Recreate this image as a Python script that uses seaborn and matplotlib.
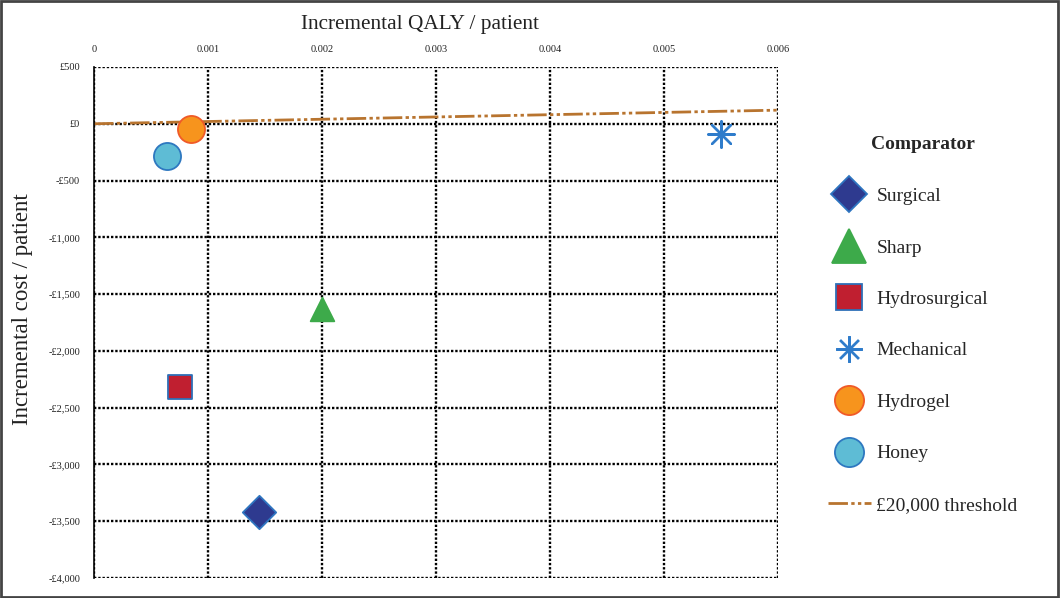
import matplotlib
matplotlib.use("Agg")
import matplotlib.pyplot as plt
import seaborn as sns
import pandas as pd
import numpy as np
from matplotlib.lines import Line2D
from matplotlib.patches import Rectangle
from matplotlib.ticker import FuncFormatter, MultipleLocator

# ---- data ----
comparators = ["Surgical", "Sharp", "Hydrosurgical", "Mechanical", "Hydrogel", "Honey"]
inc_qaly = [0.00145, 0.0020, 0.00075, 0.0055, 0.00085, 0.00064]
inc_cost = [-3415, -1630, -2315, -90, -50, -280]
threshold_wtp = 20000
threshold_x = [0.0, 0.006]
legend_title = "Comparator"
threshold_label = "£20,000 threshold"

fill_colors = {"Surgical": "#2E3A8F", "Sharp": "#3DAA4A", "Hydrosurgical": "#C01F30",
               "Mechanical": "#2F7CCB", "Hydrogel": "#F7941D", "Honey": "#5EBCD5"}
edge_colors = {"Surgical": "#2E75C0", "Sharp": "#3DAA4A", "Hydrosurgical": "#2E6FB8",
               "Mechanical": "#2F7CCB", "Hydrogel": "#F05A28", "Honey": "#2E78C0"}
markers = {"Surgical": "D", "Sharp": "^", "Hydrosurgical": "s",
           "Mechanical": (8, 2, 0), "Hydrogel": "o", "Honey": "o"}
msize = {"Surgical": 17, "Sharp": 17, "Hydrosurgical": 17, "Mechanical": 19,
         "Hydrogel": 19.5, "Honey": 19.5}
leg_msize = {"Surgical": 18, "Sharp": 24, "Hydrosurgical": 19, "Mechanical": 19,
             "Hydrogel": 21, "Honey": 21}

df = pd.DataFrame({"Comparator": comparators, "QALY": inc_qaly, "Cost": inc_cost})

sns.set_style("white")
plt.rcParams["font.family"] = ["Liberation Serif", "DejaVu Serif"]

fig = plt.figure(figsize=(10.6, 5.98), dpi=100)
ax = fig.add_axes([94/1060, 1-578/598, (778-94)/1060, (578-67)/598])

THR_COLOR = "#B8742F"
THR_STYLE = (0, (7, 1.2, 1.2, 1.2, 1.2, 1.2))

# threshold line
thr_y = [threshold_wtp * x for x in threshold_x]
sns.lineplot(x=threshold_x, y=thr_y, ax=ax, color=THR_COLOR, lw=2.0,
             linestyle=THR_STYLE, zorder=3)

for c in comparators:
    sub = df[df["Comparator"] == c]
    sns.scatterplot(data=sub, x="QALY", y="Cost", ax=ax, marker=markers[c],
                    s=msize[c]**2, color=fill_colors[c],
                    edgecolor=edge_colors[c], linewidth=1.3 if c != "Mechanical" else 1.7,
                    zorder=4, legend=False)
    if c == "Mechanical":
        sns.scatterplot(data=sub, x="QALY", y="Cost", ax=ax, marker="o", s=20,
                        color=fill_colors[c], edgecolor="none", zorder=5, legend=False)

ax.set_xlim(0, 0.006)
ax.set_ylim(-4000, 500)
ax.xaxis.set_major_locator(MultipleLocator(0.001))
ax.yaxis.set_major_locator(MultipleLocator(500))
ax.xaxis.tick_top()
ax.xaxis.set_label_position("top")
ax.xaxis.set_major_formatter(FuncFormatter(lambda v, p: "0" if abs(v) < 1e-12 else f"{v:.3f}"))

def fmt_cost(v, p):
    v = int(round(v))
    if v == 0:
        return "£0"
    s = f"£{abs(v):,}"
    return "-" + s if v < 0 else s
ax.yaxis.set_major_formatter(FuncFormatter(fmt_cost))
ax.tick_params(axis="both", length=0, labelsize=7.5, colors="#222222")
ax.tick_params(axis="x", pad=9)
ax.tick_params(axis="y", pad=10)

ax.grid(True, color="black", linestyle=(0, (1, 0.8)), linewidth=1.7)
for s in ["top", "right", "bottom"]:
    ax.spines[s].set_visible(False)
ax.spines["left"].set_color("black")
ax.spines["left"].set_linewidth(1.2)
ax.spines["left"].set_zorder(5)

ax.set_xlabel("Incremental QALY / patient", fontsize=15.3, color="#222222")
ax.xaxis.set_label_coords(0.477, 1 + (67 - 29) / 511)
ax.set_ylabel("Incremental cost / patient", fontsize=16.5, color="#222222")
ax.yaxis.set_label_coords(-(94 - 33) / 684, 0.526)

# legend
handles = []
for c in comparators:
    handles.append(Line2D([], [], linestyle="none", marker=markers[c], markersize=leg_msize[c],
                          markerfacecolor=fill_colors[c], markeredgecolor=edge_colors[c],
                          markeredgewidth=1.3 if c != "Mechanical" else 1.7, label=c))
handles.append(Line2D([], [], color=THR_COLOR, lw=2, linestyle=THR_STYLE,
                      label=threshold_label))
leg = fig.legend(handles=handles, loc="upper left", bbox_to_anchor=(820/1060, 1-128/598),
                 frameon=False, fontsize=14, title=legend_title,
                 title_fontproperties={"weight": "bold", "size": 14},
                 labelspacing=1.74, handlelength=2.2, handletextpad=0.3, borderaxespad=0)
leg._legend_box.sep = 25

fig.patches.append(Rectangle((0.001, 0.002), 0.997, 0.996, transform=fig.transFigure,
                             fill=False, edgecolor="#444444", linewidth=2))

fig.savefig("out.png", dpi=100)
